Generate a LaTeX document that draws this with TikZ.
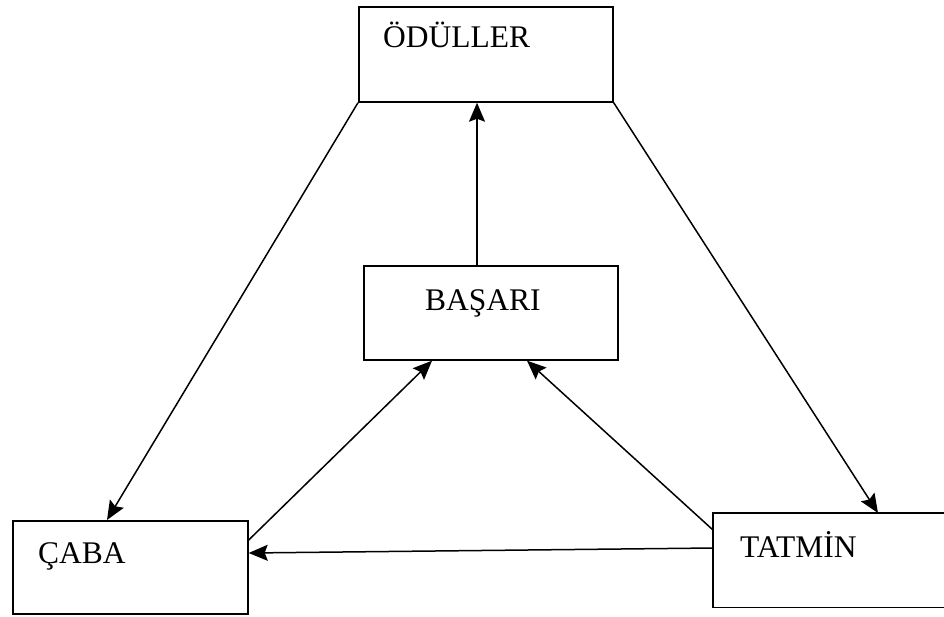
\documentclass[tikz,border=0pt]{standalone}
\usepackage{fontspec}
\setmainfont{Liberation Serif}
\usetikzlibrary{arrows.meta}
\tikzset{
  box/.style={draw=black, line width=1.7pt, rectangle, inner sep=0pt, anchor=north west},
  openbox/.style={draw=none, rectangle, inner sep=0pt, anchor=north west},
  boxline/.style={draw=black, line width=1.7pt},
  lbl/.style={anchor=base west, inner sep=0pt, font=\fontsize{31.5}{36}\selectfont},
  conn/.style={draw=black, line width=1.5pt, -{Stealth[length=19pt,width=16pt,inset=3pt]}}
}
\begin{document}
\begin{tikzpicture}[x=1pt,y=-1pt]
\useasboundingbox (0,0) rectangle (944,616);
\fill[white] (0,0) rectangle (944,616);
% boxes
\node[box, minimum width=254pt, minimum height=95pt] (odul) at (358,6) {};
\node[box, minimum width=254pt, minimum height=94pt] (basari) at (363,265) {};
\node[box, minimum width=235pt, minimum height=93pt] (caba) at (12,520) {};
\node[openbox, minimum width=231pt, minimum height=94pt] (tatmin) at (713,513) {};
\draw[boxline] (tatmin.north east) -- (tatmin.north west) -- (tatmin.south west) -- (tatmin.south east);
% labels
\node[lbl] (todul) at (383,47) {ÖDÜLLER};
\node[lbl] (tbasari) at (425,310) {BAŞARI};
\node[lbl] (tcaba) at (38,563) {ÇABA};
\node[lbl] (ttatmin) at (740,557) {TATMİN};
% connectors
\draw[conn] ([xshift=114pt]basari.north west) -- ([xshift=119pt]odul.south west);
\draw[conn] (odul.south west) -- ([xshift=95pt]caba.north west);
\draw[conn] (odul.south east) -- ([xshift=165pt]tatmin.north west);
\draw[conn] ([yshift=-20pt]caba.north east) -- ([xshift=69pt]basari.south west);
\draw[conn] ([yshift=-17pt]tatmin.north west) -- ([xshift=164pt]basari.south west);
\draw[conn] ([yshift=-35pt]tatmin.north west) -- ([yshift=-33pt]caba.north east);
\end{tikzpicture}
\end{document}
